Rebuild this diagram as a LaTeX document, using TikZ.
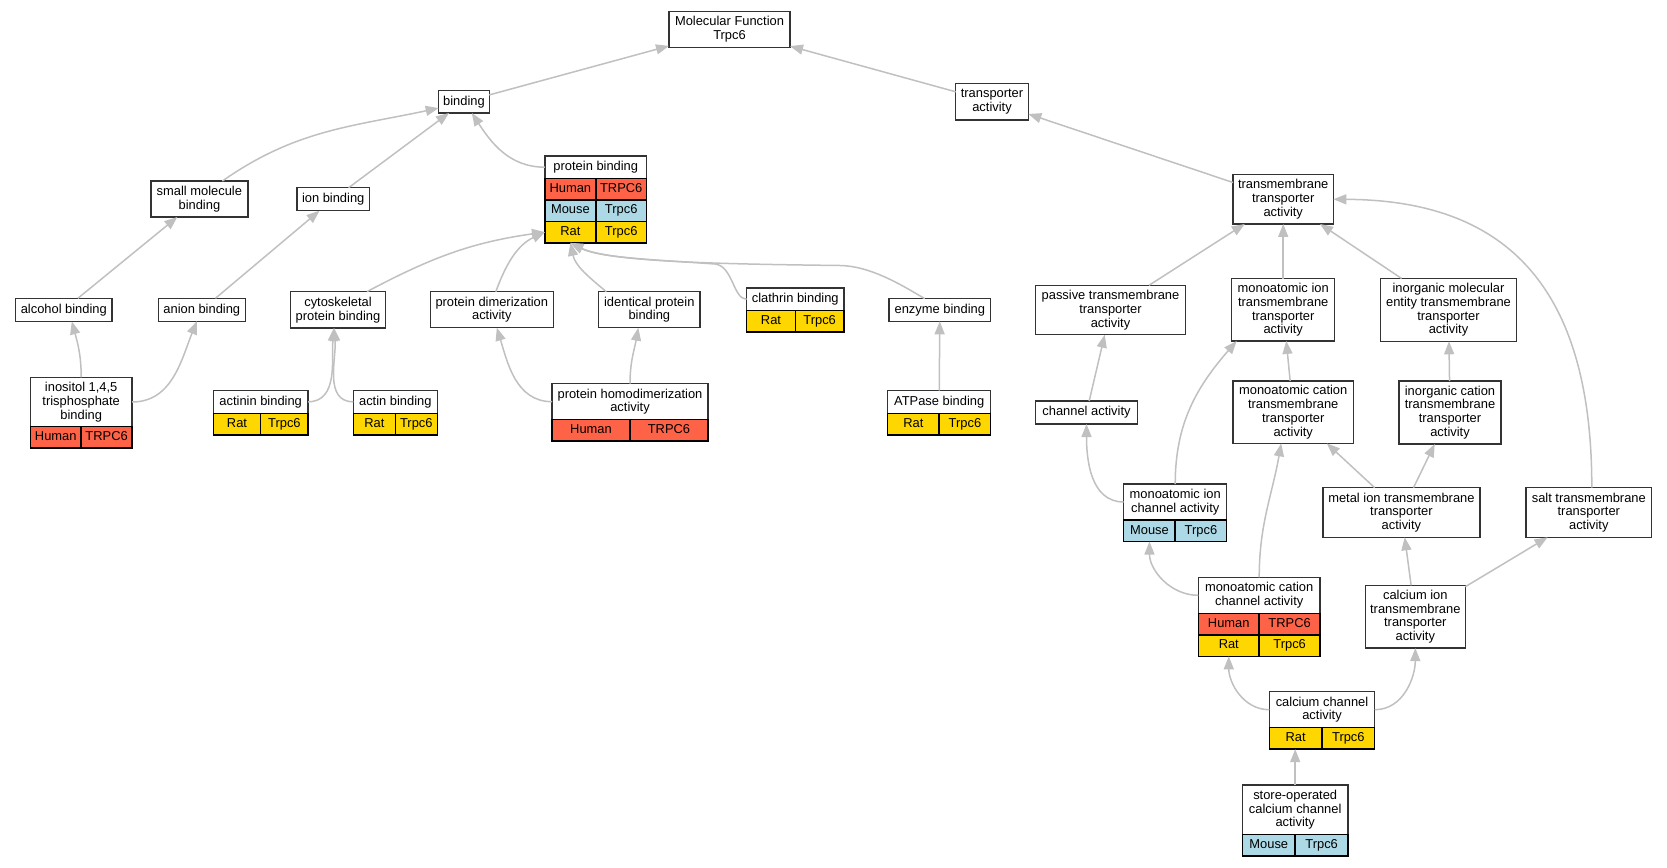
\documentclass[tikz,border=0pt]{standalone}
\usepackage{fontspec}
\setmainfont{Liberation Sans}
\usetikzlibrary{arrows.meta}

\definecolor{humanred}{HTML}{FF6347}
\definecolor{mouseblue}{HTML}{ADD8E6}
\definecolor{ratgold}{HTML}{FFD700}
\definecolor{edgegray}{HTML}{C0C0C0}
\definecolor{boxline}{HTML}{333333}

\tikzset{
  term/.style={draw=boxline, fill=white, line width=1.5pt, align=center,
    inner sep=1pt, outer sep=0pt, font=\fontsize{12.9}{13.8}\selectfont},
  cell/.style={draw=black, line width=1.5pt, inner sep=0pt, outer sep=0pt,
    minimum height=21.5pt, text height=9.3pt, text depth=2.7pt,
    anchor=north west, font=\fontsize{12.9}{13.8}\selectfont},
  humancell/.style={cell, fill=humanred},
  mousecell/.style={cell, fill=mouseblue},
  ratcell/.style={cell, fill=ratgold},
  isa/.style={draw=edgegray, line width=1.5pt, -{Triangle[length=13pt,width=10pt]}}
}

\begin{document}
\begin{tikzpicture}[x=1pt,y=-1pt]
    % Page frame
    \useasboundingbox (0,0) rectangle (1667,867);

    % Root and first level
    \node[term, minimum width=121pt, minimum height=36pt] (mf) at (729.5,29.5) {Molecular Function\\Trpc6};
    \node[term, minimum width=50.6pt, minimum height=22.3pt] (bind) at (464,101.8) {binding};
    \node[term, minimum width=72.6pt, minimum height=36.3pt] (tra) at (992,101.8) {transporter\\activity};

    % Binding branch
    \node[term, minimum width=97.3pt, minimum height=36pt] (sm) at (199.4,199) {small molecule\\binding};
    \node[term, minimum width=72.3pt, minimum height=23pt] (ion) at (333.2,199.2) {ion binding};
    \node[term, minimum width=101.7pt, minimum height=22.3pt] (pb) at (595.8,167.2) {protein binding};
    \node[humancell, minimum width=50.85pt] (pb-h1) at (pb.south west) {Human};
    \node[humancell, minimum width=50.85pt] (pb-h2) at (pb-h1.north east) {TRPC6};
    \node[mousecell, minimum width=50.85pt] (pb-m1) at (pb-h1.south west) {Mouse};
    \node[mousecell, minimum width=50.85pt] (pb-m2) at (pb-m1.north east) {Trpc6};
    \node[ratcell, minimum width=50.85pt] (pb-r1) at (pb-m1.south west) {Rat};
    \node[ratcell, minimum width=50.85pt] (pb-r2) at (pb-r1.north east) {Trpc6};

    \node[term, minimum width=96.3pt, minimum height=23pt] (alc) at (63.8,309.8) {alcohol binding};
    \node[term, minimum width=87pt, minimum height=23pt] (ani) at (201.8,309.8) {anion binding};
    \node[term, minimum width=94.6pt, minimum height=36.3pt] (cyto) at (338,309.8) {cytoskeletal\\protein binding};
    \node[term, minimum width=123pt, minimum height=36pt] (dim) at (491.8,309.7) {protein dimerization\\activity};
    \node[term, minimum width=101.3pt, minimum height=36pt] (ide) at (649.3,309.7) {identical protein\\binding};
    \node[term, minimum width=97.3pt, minimum height=22.7pt] (cla) at (795.3,299.3) {clathrin binding};
    \node[ratcell, minimum width=48.65pt] (cla-r1) at (cla.south west) {Rat};
    \node[ratcell, minimum width=48.65pt] (cla-r2) at (cla-r1.north east) {Trpc6};
    \node[term, minimum width=101.7pt, minimum height=22.6pt] (enz) at (939.8,310) {enzyme binding};

    \node[term, minimum width=101.7pt, minimum height=49.4pt] (ino) at (81.2,402) {inositol 1,4,5\\trisphosphate\\binding};
    \node[humancell, minimum width=50.85pt] (ino-h1) at (ino.south west) {Human};
    \node[humancell, minimum width=50.85pt] (ino-h2) at (ino-h1.north east) {TRPC6};
    \node[term, minimum width=94.7pt, minimum height=23pt] (act) at (260.7,401.8) {actinin binding};
    \node[ratcell, minimum width=47.35pt] (act-r1) at (act.south west) {Rat};
    \node[ratcell, minimum width=47.35pt] (act-r2) at (act-r1.north east) {Trpc6};
    \node[term, minimum width=84pt, minimum height=23pt] (acb) at (395.3,401.8) {actin binding};
    \node[ratcell, minimum width=42pt] (acb-r1) at (acb.south west) {Rat};
    \node[ratcell, minimum width=42pt] (acb-r2) at (acb-r1.north east) {Trpc6};
    \node[term, minimum width=156pt, minimum height=36pt] (hd) at (630,401.7) {protein homodimerization\\activity};
    \node[humancell, minimum width=78pt] (hd-h1) at (hd.south west) {Human};
    \node[humancell, minimum width=78pt] (hd-h2) at (hd-h1.north east) {TRPC6};
    \node[term, minimum width=103pt, minimum height=22.6pt] (atp) at (939.2,402) {ATPase binding};
    \node[ratcell, minimum width=51.5pt] (atp-r1) at (atp.south west) {Rat};
    \node[ratcell, minimum width=51.5pt] (atp-r2) at (atp-r1.north east) {Trpc6};

    % Transporter branch
    \node[term, minimum width=100.3pt, minimum height=49.3pt] (tm) at (1283.2,199.3) {transmembrane\\transporter\\activity};
    \node[term, minimum width=149.6pt, minimum height=49.4pt] (pas) at (1110.5,310) {passive transmembrane\\transporter\\activity};
    \node[term, minimum width=103pt, minimum height=62.3pt] (mitm) at (1283.2,309.8) {monoatomic ion\\transmembrane\\transporter\\activity};
    \node[term, minimum width=136.3pt, minimum height=62.8pt] (imt) at (1448.5,309.9) {inorganic molecular\\entity transmembrane\\transporter\\activity};
    \node[term, minimum width=101.6pt, minimum height=23pt] (cha) at (1086.5,412.5) {channel activity};
    \node[term, minimum width=120.3pt, minimum height=62.3pt] (mctm) at (1293.2,412.2) {monoatomic cation\\transmembrane\\transporter\\activity};
    \node[term, minimum width=101.9pt, minimum height=63pt] (ict) at (1450,412.5) {inorganic cation\\transmembrane\\transporter\\activity};
    \node[term, minimum width=103pt, minimum height=36pt] (mic) at (1175.2,502) {monoatomic ion\\channel activity};
    \node[mousecell, minimum width=51.5pt] (mic-m1) at (mic.south west) {Mouse};
    \node[mousecell, minimum width=51.5pt] (mic-m2) at (mic-m1.north east) {Trpc6};
    \node[term, minimum width=157.3pt, minimum height=49.6pt] (met) at (1401.4,512.5) {metal ion transmembrane\\transporter\\activity};
    \node[term, minimum width=125.6pt, minimum height=49.6pt] (salt) at (1588.8,512.5) {salt transmembrane\\transporter\\activity};
    \node[term, minimum width=121.7pt, minimum height=36pt] (mcc) at (1259.2,595.3) {monoatomic cation\\channel activity};
    \node[humancell, minimum width=60.85pt] (mcc-h1) at (mcc.south west) {Human};
    \node[humancell, minimum width=60.85pt] (mcc-h2) at (mcc-h1.north east) {TRPC6};
    \node[ratcell, minimum width=60.85pt] (mcc-r1) at (mcc-h1.south west) {Rat};
    \node[ratcell, minimum width=60.85pt] (mcc-r2) at (mcc-r1.north east) {Trpc6};
    \node[term, minimum width=100pt, minimum height=62.7pt] (cit) at (1415.3,616.7) {calcium ion\\transmembrane\\transporter\\activity};
    \node[term, minimum width=105.4pt, minimum height=36pt] (cc) at (1322,709.7) {calcium channel\\activity};
    \node[ratcell, minimum width=52.7pt] (cc-r1) at (cc.south west) {Rat};
    \node[ratcell, minimum width=52.7pt] (cc-r2) at (cc-r1.north east) {Trpc6};
    \node[term, minimum width=105.7pt, minimum height=49.3pt] (so) at (1295.2,809.7) {store-operated\\calcium channel\\activity};
    \node[mousecell, minimum width=52.85pt] (so-m1) at (so.south west) {Mouse};
    \node[mousecell, minimum width=52.85pt] (so-m2) at (so-m1.north east) {Trpc6};

    % Edges, binding side
    \draw[isa] (bind) -- (mf);
    \draw[isa] (tra) -- (mf);
    \draw[isa] ([xshift=23pt]sm.north) to[out=35,in=192] (bind.194);
    \draw[isa] (ion) -- (bind);
    \draw[isa] (pb.west) to[out=180,in=-57] (bind.-55);
    \draw[isa] (alc) -- (sm);
    \draw[isa] (ani) -- (ion);
    \draw[isa] ([xshift=29pt]cyto.north) to[out=28,in=188] (pb-r1.west);
    \draw[isa] ([xshift=4pt]dim.north) to[out=70,in=205] (pb-r1.west);
    \draw[isa] ([xshift=-43pt]ide.north) to[out=140,in=-78] (pb-r1.south);
    \draw[isa] (cla.west) .. controls (733,299) and (733,266) .. (715,264)
                          .. controls (660,260) and (600,258) .. (pb-r1.south);
    \draw[isa] ([xshift=-15pt]enz.north) .. controls (900,284) and (870,266) .. (840,265.5)
                                         .. controls (720,264) and (610,262) .. (pb-r1.south);
    \draw[isa] (ino.north) to[out=90,in=-75] ([xshift=8pt]alc.south);
    \draw[isa] (ino.east) to[out=0,in=-112] ([xshift=-5pt]ani.south);
    \draw[isa] (act.east) to[out=0,in=-95] ([xshift=-4pt]cyto.south);
    \draw[isa] (acb.west) to[out=180,in=-85] ([xshift=-4pt]cyto.south);
    \draw[isa] (hd.west) to[out=180,in=-73] ([xshift=5pt]dim.south);
    \draw[isa] (hd.north) to[out=90,in=-100] ([xshift=-11pt]ide.south);
    \draw[isa] (atp) -- (enz);

    % Edges, transporter side
    \draw[isa] (tm) -- (tra);
    \draw[isa] (pas) -- (tm);
    \draw[isa] (mitm) -- (tm);
    \draw[isa] (imt) -- (tm);
    \draw[isa] ([xshift=3pt]salt.north) .. controls (1592,280) and (1500,200) .. (tm.east);
    \draw[isa] (cha) -- (pas);
    \draw[isa] (mctm) -- (mitm);
    \draw[isa] (ict) -- (imt);
    \draw[isa] (mic.west) to[out=180,in=-90] (cha.south);
    \draw[isa] (mic.north) to[out=90,in=-131] ([xshift=5pt]mitm.south west);
    \draw[isa] (met) -- (mctm);
    \draw[isa] (met) -- (ict);
    \draw[isa] (mcc.west) to[out=180,in=-90] (mic-m1.south);
    \draw[isa] (mcc.north) to[out=90,in=-100] ([xshift=-12pt]mctm.south);
    \draw[isa] (cit) -- (met);
    \draw[isa] (cit) -- (salt);
    \draw[isa] (cc.west) to[out=180,in=-90] (mcc-r1.south);
    \draw[isa] (cc.east) to[out=0,in=-90] (cit.south);
    \draw[isa] (so) -- (so |- cc-r1.south);
  \end{tikzpicture}
\end{document}
